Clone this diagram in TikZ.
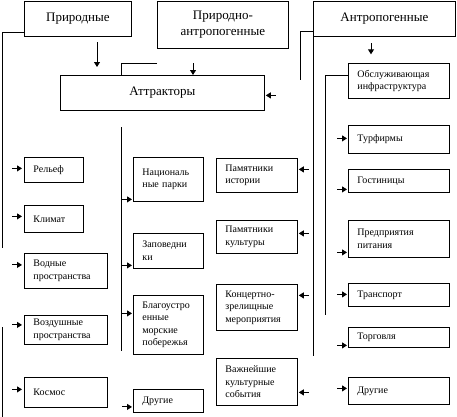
\documentclass[tikz,border=0pt]{standalone}
\usepackage{fontspec}
\setmainfont{Liberation Serif}
\usetikzlibrary{arrows.meta,calc}
\begin{document}
\begin{tikzpicture}[x=1pt,y=-1pt,
  ln/.style={line width=0.8pt},
  box/.style={draw, line width=0.8pt, anchor=north west, inner xsep=9pt, inner ysep=0pt, align=left, font=\fontsize{10}{12.5}\selectfont},
  topbox/.style={draw, line width=0.8pt, anchor=north west, inner sep=0pt, align=center, font=\fontsize{13}{16}\selectfont},
  arr/.style={line width=0.9pt, -{Triangle[length=5pt,width=6pt]}}
]
\useasboundingbox (0,0) rectangle (457,416);
% top boxes
\node[topbox, minimum width=107pt, minimum height=35pt] (nat) at (24,0.5) {Природные};
\node[topbox, minimum width=131pt, minimum height=47pt] (natant) at (157,0.5) {Природно-\\антропогенные};
\node[topbox, minimum width=142pt, minimum height=35pt] (ant) at (313,0.5) {Антропогенные};
\node[topbox, minimum width=204pt, minimum height=35pt] (attr) at (60,75) {Аттракторы};
% left column
\node[box, text width=41pt, minimum height=25pt] (rel) at (24,157) {Рельеф};
\node[box, text width=41pt, minimum height=27pt] (klim) at (24,205) {Климат};
\node[box, text width=65pt, minimum height=35pt] (vod) at (24,253) {Водные\\пространства};
\node[box, text width=65pt, minimum height=29pt] (vozd) at (24,315) {Воздушные\\пространства};
\node[box, text width=65pt, minimum height=30pt] (kosm) at (24,377) {Космос};
% middle-left column
\node[box, text width=52pt, minimum height=44pt] (np) at (133,157) {Националь\\ные парки};
\node[box, text width=52pt, minimum height=35pt] (zap) at (133,233) {Заповедни\\ки};
\node[box, text width=52pt, minimum height=59pt] (blag) at (133,295) {Благоустро\\енные\\морские\\побережья};
\node[box, text width=52pt, minimum height=23pt] (dr1) at (133,389) {Другие};
% middle-right column
\node[box, text width=63pt, minimum height=34pt] (pi) at (216,158) {Памятники\\истории};
\node[box, text width=63pt, minimum height=33pt] (pk) at (216,220) {Памятники\\культуры};
\node[box, text width=63pt, minimum height=46pt] (kz) at (216,284) {Концертно-\\зрелищные\\мероприятия};
\node[box, text width=63pt, minimum height=47pt] (vk) at (216,358) {Важнейшие\\культурные\\события};
% right column
\node[box, text width=83pt, minimum height=35pt] (obsl) at (348,63) {Обслуживающая\\инфраструктура};
\node[box, text width=83pt, minimum height=28pt] (tf) at (348,125) {Турфирмы};
\node[box, text width=83pt, minimum height=23pt] (gost) at (348,169) {Гостиницы};
\node[box, text width=83pt, minimum height=37pt] (pp) at (348,220) {Предприятия\\питания};
\node[box, text width=83pt, minimum height=23pt] (tr) at (348,283) {Транспорт};
\node[box, text width=83pt, minimum height=20pt] (torg) at (348,327) {Торговля};
\node[box, text width=83pt, minimum height=27pt] (dr2) at (348,377) {Другие};
% free line ends
\coordinate (l1) at (2,248);
\coordinate (l2a) at (2,327);
\coordinate (l2b) at (2,417);
\coordinate (m1) at (121,127);
\coordinate (m2) at (121,351);
\coordinate (c2) at (157,63);
\coordinate (a1s) at (97,42);
\coordinate (a1e) at (97,67);
% lines
\draw[ln] ($(nat.south west)+(0,-3.5)$) -| (l1);
\draw[ln] (l2a) -- (l2b);
\draw[ln] (m1) -- (m2);
\draw[ln] (c2) -| ($(attr.north west)+(61,0)$);
\draw[ln] ($(ant.south west)+(0,-4.5)$) -- ++(-13,0) -- ++(0,48);
\draw[ln] (ant.south west) -- ++(0,320);
\draw[ln] ($(obsl.west)+(0,-5.5)$) -- ++(-23,0) -- ++(0,240);
% top arrows
\draw[arr] (a1s) -- (a1e);
\draw[arr] ($(attr.north west)+(133,-12)$) -- ($(attr.north west)+(133,0)$);
\draw[arr] ($(ant.south west)+(58,7)$) -- ++(0,11);
\draw[arr] ($(attr.east)+(11,2.5)$) -- ($(attr.east)+(1,2.5)$);
% left column arrows
\draw[arr] ($(rel.west)+(-12,-1.5)$) -- ++(10,0);
\draw[arr] ($(klim.west)+(-12,-2.5)$) -- ++(10,0);
\draw[arr] ($(vod.west)+(-12,-6)$) -- ++(10,0);
\draw[arr] ($(vozd.west)+(-12,-5)$) -- ++(10,0);
\draw[arr] ($(kosm.west)+(-12,-3)$) -- ++(10,0);
% middle-left arrows
\draw[arr] ($(np.west)+(-11,20)$) -- ++(10,0);
\draw[arr] ($(zap.west)+(-11,14.5)$) -- ++(10,0);
\draw[arr] ($(blag.west)+(-11,-11.5)$) -- ++(10,0);
\draw[arr] ($(dr1.west)+(-11,6)$) -- ++(10,0);
% middle-right arrows (pointing left)
\draw[arr] ($(pi.east)+(11,-6)$) -- ++(-10,0);
\draw[arr] ($(pk.east)+(11,-3.5)$) -- ++(-10,0);
\draw[arr] ($(kz.east)+(11,-12)$) -- ++(-10,0);
\draw[arr] ($(vk.east)+(11,10.5)$) -- ++(-10,0);
% right arrows
\draw[arr] ($(tf.west)+(-11,-1)$) -- ++(10,0);
\draw[arr] ($(gost.west)+(-11,8.5)$) -- ++(10,0);
\draw[arr] ($(pp.west)+(-11,13.5)$) -- ++(10,0);
\draw[arr] ($(tr.west)+(-11,-0.5)$) -- ++(10,0);
\draw[arr] ($(torg.west)+(-11,8)$) -- ++(10,0);
\draw[arr] ($(dr2.west)+(-11,-2.5)$) -- ++(10,0);
\end{tikzpicture}
\end{document}
